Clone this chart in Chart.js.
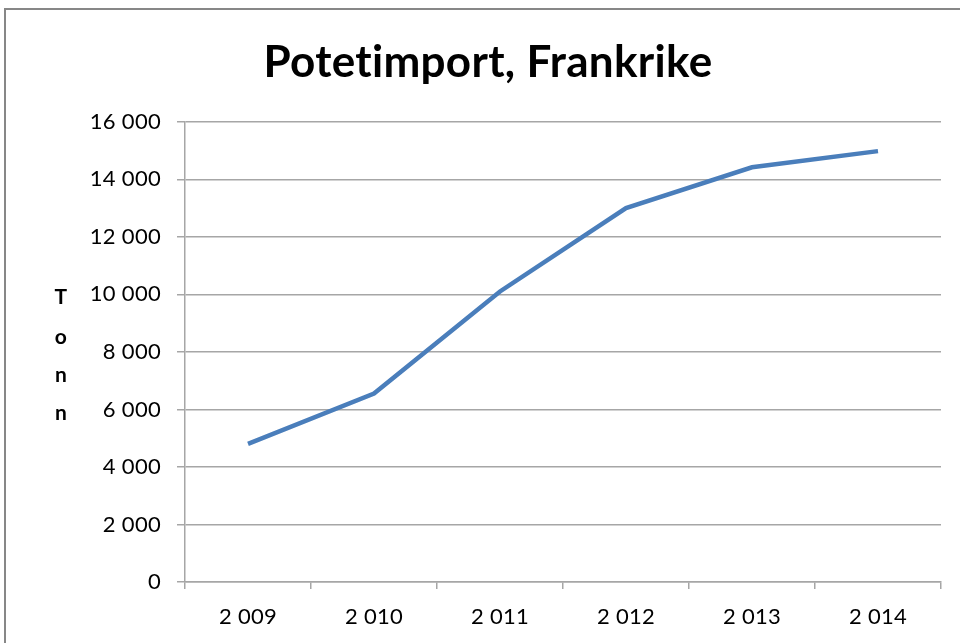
<!DOCTYPE html>
<html>
<head>
<meta charset="utf-8">
<script src="https://cdn.jsdelivr.net/npm/chart.js@4.4.1/dist/chart.umd.min.js"></script>
<style>
html,body{margin:0;padding:0;background:#fff;}
#wrap{position:relative;width:960px;height:643px;}
</style>
</head>
<body>
<div id="wrap"><canvas id="c" width="960" height="643"></canvas></div>
<script>
const chartTitle = 'Potetimport, Frankrike';
const axisTitle = ['T', 'o', 'n', 'n'];
const years = [2009, 2010, 2011, 2012, 2013, 2014];
const tonnes = [4800, 6550, 10100, 13000, 14420, 14980];
const yTicks = [0, 2000, 4000, 6000, 8000, 10000, 12000, 14000, 16000];

const fmt = v => String(v).replace(/\B(?=(\d{3})+(?!\d))/g, ' ');
const GRID = '#a6a6a6';
const FONT = 'Lato, "Open Sans", sans-serif';

const framePlugin = {
  id: 'frame',
  beforeDraw(chart) {
    const ctx = chart.ctx;
    ctx.save();
    ctx.fillStyle = '#fff';
    ctx.fillRect(0, 0, chart.width, chart.height);
    ctx.strokeStyle = '#878787';
    ctx.lineWidth = 2;
    ctx.strokeRect(5, 9, 1100, 1100);
    ctx.restore();
    try { ctx.letterSpacing = '0.3px'; } catch (e) {}
  },
  afterDraw(chart) {
    const ctx = chart.ctx;
    ctx.save();
    ctx.fillStyle = '#000';
    ctx.font = 'bold 21px ' + FONT;
    ctx.textAlign = 'center';
    ctx.textBaseline = 'middle';
    const ys = [297, 337, 375, 413];
    axisTitle.forEach((ch, i) => ctx.fillText(ch, 61, ys[i]));
    ctx.restore();
  }
};

new Chart(document.getElementById('c'), {
  type: 'line',
  data: {
    labels: years,
    datasets: [{
      data: tonnes,
      borderColor: '#4a7ebb',
      borderWidth: 4.5,
      pointRadius: 0,
      tension: 0,
      fill: false
    }]
  },
  plugins: [framePlugin],
  options: {
    responsive: false,
    animation: false,
    devicePixelRatio: 1,
    layout: { padding: { left: 35, right: 19, top: 0, bottom: 0 } },
    plugins: {
      legend: { display: false },
      tooltip: { enabled: false },
      title: {
        display: true,
        text: chartTitle,
        color: '#000',
        font: { family: FONT, size: 44, weight: 'bold', lineHeight: 1.2 },
        padding: { top: 36, bottom: 33 }
      }
    },
    scales: {
      x: {
        type: 'category',
        offset: true,
        afterFit(s) { s.height = 61; },
        grid: { offset: true, drawOnChartArea: false, drawTicks: true, tickLength: 7, color: GRID, lineWidth: 1.5 },
        border: { color: GRID, width: 1.5 },
        ticks: {
          color: '#000',
          font: { family: FONT, size: 22 },
          padding: 15,
          maxRotation: 0,
          callback(v, i) { return fmt(years[i]); }
        }
      },
      y: {
        min: 0, max: 16000,
        afterFit(s) { s.width = 150; },
        afterBuildTicks(s) { s.ticks = yTicks.map(v => ({ value: v })); },
        grid: { color: GRID, lineWidth: 1.5, tickLength: 8 },
        border: { color: GRID, width: 1.5 },
        ticks: {
          color: '#000',
          font: { family: FONT, size: 22 },
          padding: 16,
          callback: v => fmt(v)
        }
      }
    }
  }
});
</script>
</body>
</html>
